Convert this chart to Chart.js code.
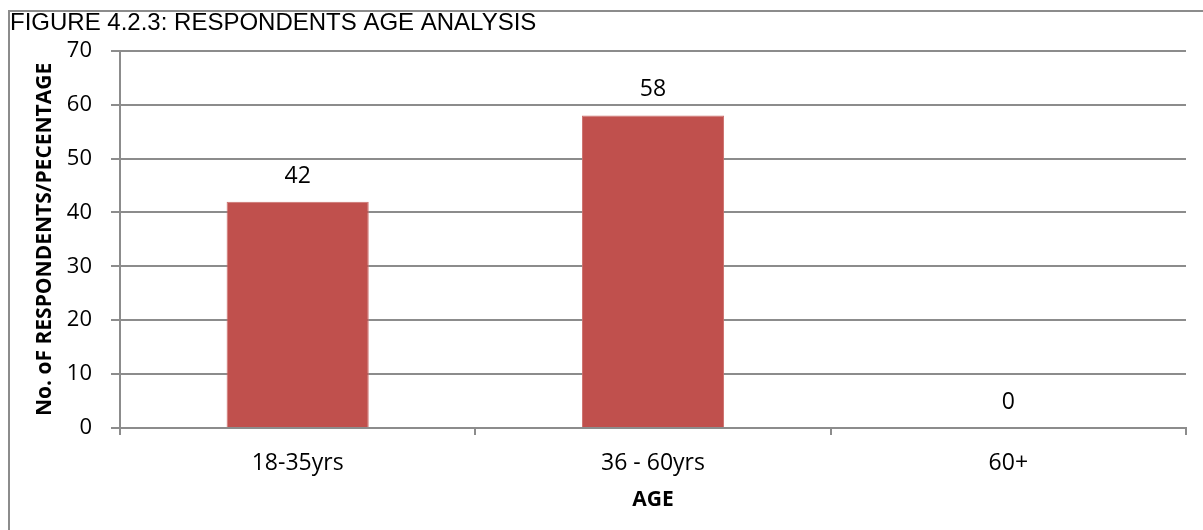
<!DOCTYPE html>
<html>
<head>
<meta charset="utf-8">
<title>Respondents Age Analysis</title>
<script src="https://cdn.jsdelivr.net/npm/chart.js@4/dist/chart.umd.min.js"></script>
<style>
  html, body { margin: 0; padding: 0; background: #ffffff; }
  #wrap { width: 1203px; height: 530px; position: relative; }
</style>
</head>
<body>
<div id="wrap"><canvas id="c" width="1203" height="530"></canvas></div>
<script>
// Age groups and share of respondents (%)
const categories = ['18-35yrs', '36 - 60yrs', '60+'];
const percentages = [42, 58, 0];
const yTicks = [0, 10, 20, 30, 40, 50, 60, 70];

const figureTitle = 'FIGURE 4.2.3: RESPONDENTS AGE ANALYSIS';
const yAxisTitle = 'No. oF RESPONDENTS/PECENTAGE';
const xAxisTitle = 'AGE';

const GRID = '#8c8c8c';
const BAR = '#C0504D';
const LABEL_FONT = '"Open Sans", "DejaVu Sans", sans-serif';

// Gray frame along the top and left edges of the figure
const framePlugin = {
  id: 'frame',
  beforeDraw(chart) {
    const ctx = chart.ctx;
    ctx.save();
    ctx.strokeStyle = GRID;
    ctx.lineWidth = 2;
    ctx.beginPath();
    ctx.moveTo(9, chart.height);
    ctx.lineTo(9, 11);
    ctx.lineTo(chart.width, 11);
    ctx.stroke();
    ctx.restore();
  }
};

// Value printed above each bar
const valueLabels = {
  id: 'valueLabels',
  afterDatasetsDraw(chart) {
    const ctx = chart.ctx;
    const meta = chart.getDatasetMeta(0);
    const data = chart.data.datasets[0].data;
    ctx.save();
    ctx.font = '23px ' + LABEL_FONT;
    ctx.fillStyle = '#000000';
    ctx.textAlign = 'center';
    ctx.textBaseline = 'alphabetic';
    meta.data.forEach((bar, i) => {
      ctx.fillText(String(data[i]), bar.x, bar.y - 19);
    });
    ctx.restore();
  }
};

new Chart(document.getElementById('c'), {
  type: 'bar',
  data: {
    labels: categories,
    datasets: [{
      data: percentages,
      backgroundColor: BAR,
      borderColor: '#cc6f6c',
      borderWidth: 1,
      barPercentage: 0.4,
      categoryPercentage: 1.0
    }]
  },
  options: {
    responsive: false,
    animation: false,
    devicePixelRatio: 1,
    layout: { padding: { left: 10, right: 17, top: 0, bottom: 0 } },
    plugins: {
      legend: { display: false },
      tooltip: { enabled: false },
      title: {
        display: true,
        text: figureTitle,
        align: 'start',
        color: '#000000',
        font: { family: '"Liberation Sans", Arial, sans-serif', size: 24, weight: 'normal', lineHeight: 1.2 },
        padding: { top: 9, bottom: 13 }
      }
    },
    scales: {
      x: {
        grid: {
          display: true,
          drawOnChartArea: false,
          drawTicks: true,
          tickLength: 7,
          color: GRID,
          lineWidth: 2
        },
        border: { display: true, color: GRID, width: 2 },
        ticks: {
          color: '#000000',
          font: { family: LABEL_FONT, size: 23 },
          padding: 15,
          maxRotation: 0
        },
        title: {
          display: true,
          text: xAxisTitle,
          color: '#000000',
          font: { family: LABEL_FONT, size: 21, weight: 'bold', lineHeight: 1.2 },
          padding: { top: 0, bottom: 17 }
        },
        afterFit(scale) {
          scale.height = 102;
          scale.paddingLeft = 0;
          scale.paddingRight = 0;
        }
      },
      y: {
        min: 0,
        max: 70,
        afterBuildTicks(scale) {
          scale.ticks = yTicks.map(v => ({ value: v }));
        },
        grid: {
          color: GRID,
          lineWidth: 2,
          tickLength: 9,
          drawTicks: true
        },
        border: { display: true, color: GRID, width: 2 },
        ticks: {
          color: '#000000',
          font: { family: LABEL_FONT, size: 22 },
          padding: 19
        },
        title: {
          display: true,
          text: yAxisTitle,
          color: '#000000',
          font: { family: LABEL_FONT, size: 21, weight: 'bold', lineHeight: 1.2 },
          padding: { top: 22, bottom: 0 }
        },
        afterFit(scale) {
          scale.width = 110;
          scale.paddingTop = 0;
          scale.paddingBottom = 0;
        }
      }
    }
  },
  plugins: [framePlugin, valueLabels]
});
</script>
</body>
</html>
